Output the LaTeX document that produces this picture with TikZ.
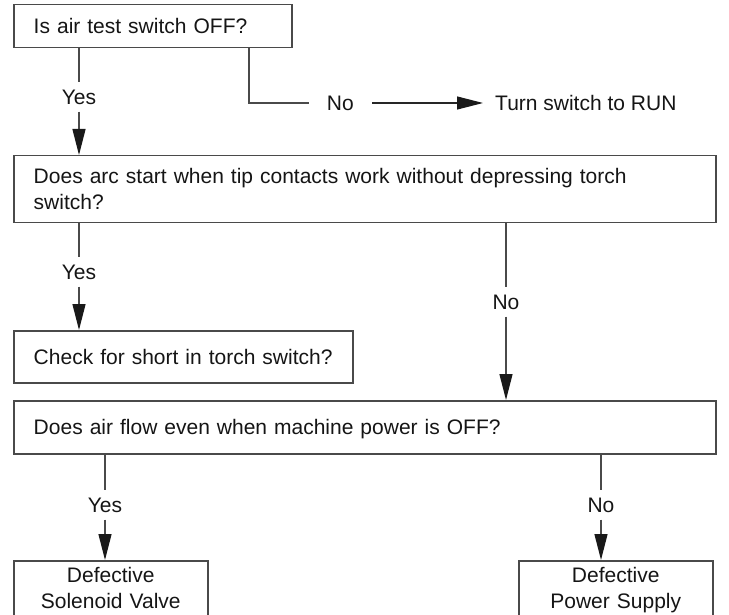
\documentclass[tikz,border=0pt]{standalone}
\usepackage{fontspec}
\setmainfont{Liberation Sans}
\usetikzlibrary{arrows.meta}
\definecolor{linegray}{HTML}{4A4A4A}
\definecolor{txt}{HTML}{151515}
\begin{document}
\begin{tikzpicture}[x=1pt,y=-1pt,
  every node/.style={font=\fontsize{21}{26}\selectfont, text=txt},
  qbox/.style={draw=linegray, line width=1.5pt, anchor=north west, inner xsep=20pt, inner ysep=0pt, align=left},
  cbox/.style={draw=linegray, line width=1.5pt, anchor=north west, inner xsep=4pt, inner ysep=0pt, align=center},
  lbl/.style={inner xsep=0pt, inner ysep=7pt},
  conn/.style={draw=linegray, line width=1.3pt},
  arr/.style={conn, -{Triangle[length=26pt,width=13pt,color=black!90]}}
]
\useasboundingbox (0,0) rectangle (729,615);

% boxes
\node[qbox, minimum width=278pt, minimum height=43pt, text width=238pt] (b1) at (13,4) {Is air test switch OFF?};
\node[qbox, minimum width=702pt, minimum height=67pt, text width=662pt] (b2) at (13,155)
  {Does arc start when tip contacts work without depressing torch\\switch?};
\node[qbox, minimum width=339pt, minimum height=52pt, text width=299pt] (b3) at (13,330) {Check for short in torch switch?};
\node[qbox, minimum width=702pt, minimum height=53pt, text width=662pt, text depth=0pt] (b4) at (13,400) {Does air flow even when machine power is OFF?};
\node[cbox, minimum width=194pt, minimum height=58pt, text width=186pt] (b5) at (13,560) {Defective\\Solenoid Valve\vphantom{y}};
\node[cbox, minimum width=194pt, minimum height=58pt, text width=186pt] (b6) at (518,560) {Defective\\Power Supply};

% labels
\node[lbl] (y1) at (79,97) {Yes};
\node[lbl] (y2) at (79,272) {Yes};
\node[lbl] (n2) at (506,302) {No};
\node[lbl] (y3) at (105,505) {Yes};
\node[lbl] (n3) at (601,505) {No};
\node[inner xsep=18pt, inner ysep=0pt] (n1) at (340.4,103) {No};
\node[anchor=west, inner xsep=12pt, inner ysep=0pt] (run) at (483,103) {Turn switch to RUN};
\coordinate (c1) at (249,103);

% connectors
\draw[conn] (b1.south -| y1) -- (y1.north);
\draw[arr] (y1.south) -- (b2.north -| y1);
\draw[conn] (b1.south -| c1) -- (c1) -- (n1.west);
\draw[arr, draw=black!85, line width=1.1pt] (n1.east) -- (run.west);

\draw[conn] (b2.south -| y2) -- (y2.north);
\draw[arr] (y2.south) -- (b3.north -| y2);
\draw[conn] (b2.south -| n2) -- (n2.north);
\draw[arr] (n2.south) -- (b4.north -| n2);

\draw[conn] (b4.south -| y3) -- (y3.north);
\draw[arr] (y3.south) -- (b5.north -| y3);
\draw[conn] (b4.south -| n3) -- (n3.north);
\draw[arr] (n3.south) -- (b6.north -| n3);
\end{tikzpicture}
\end{document}
